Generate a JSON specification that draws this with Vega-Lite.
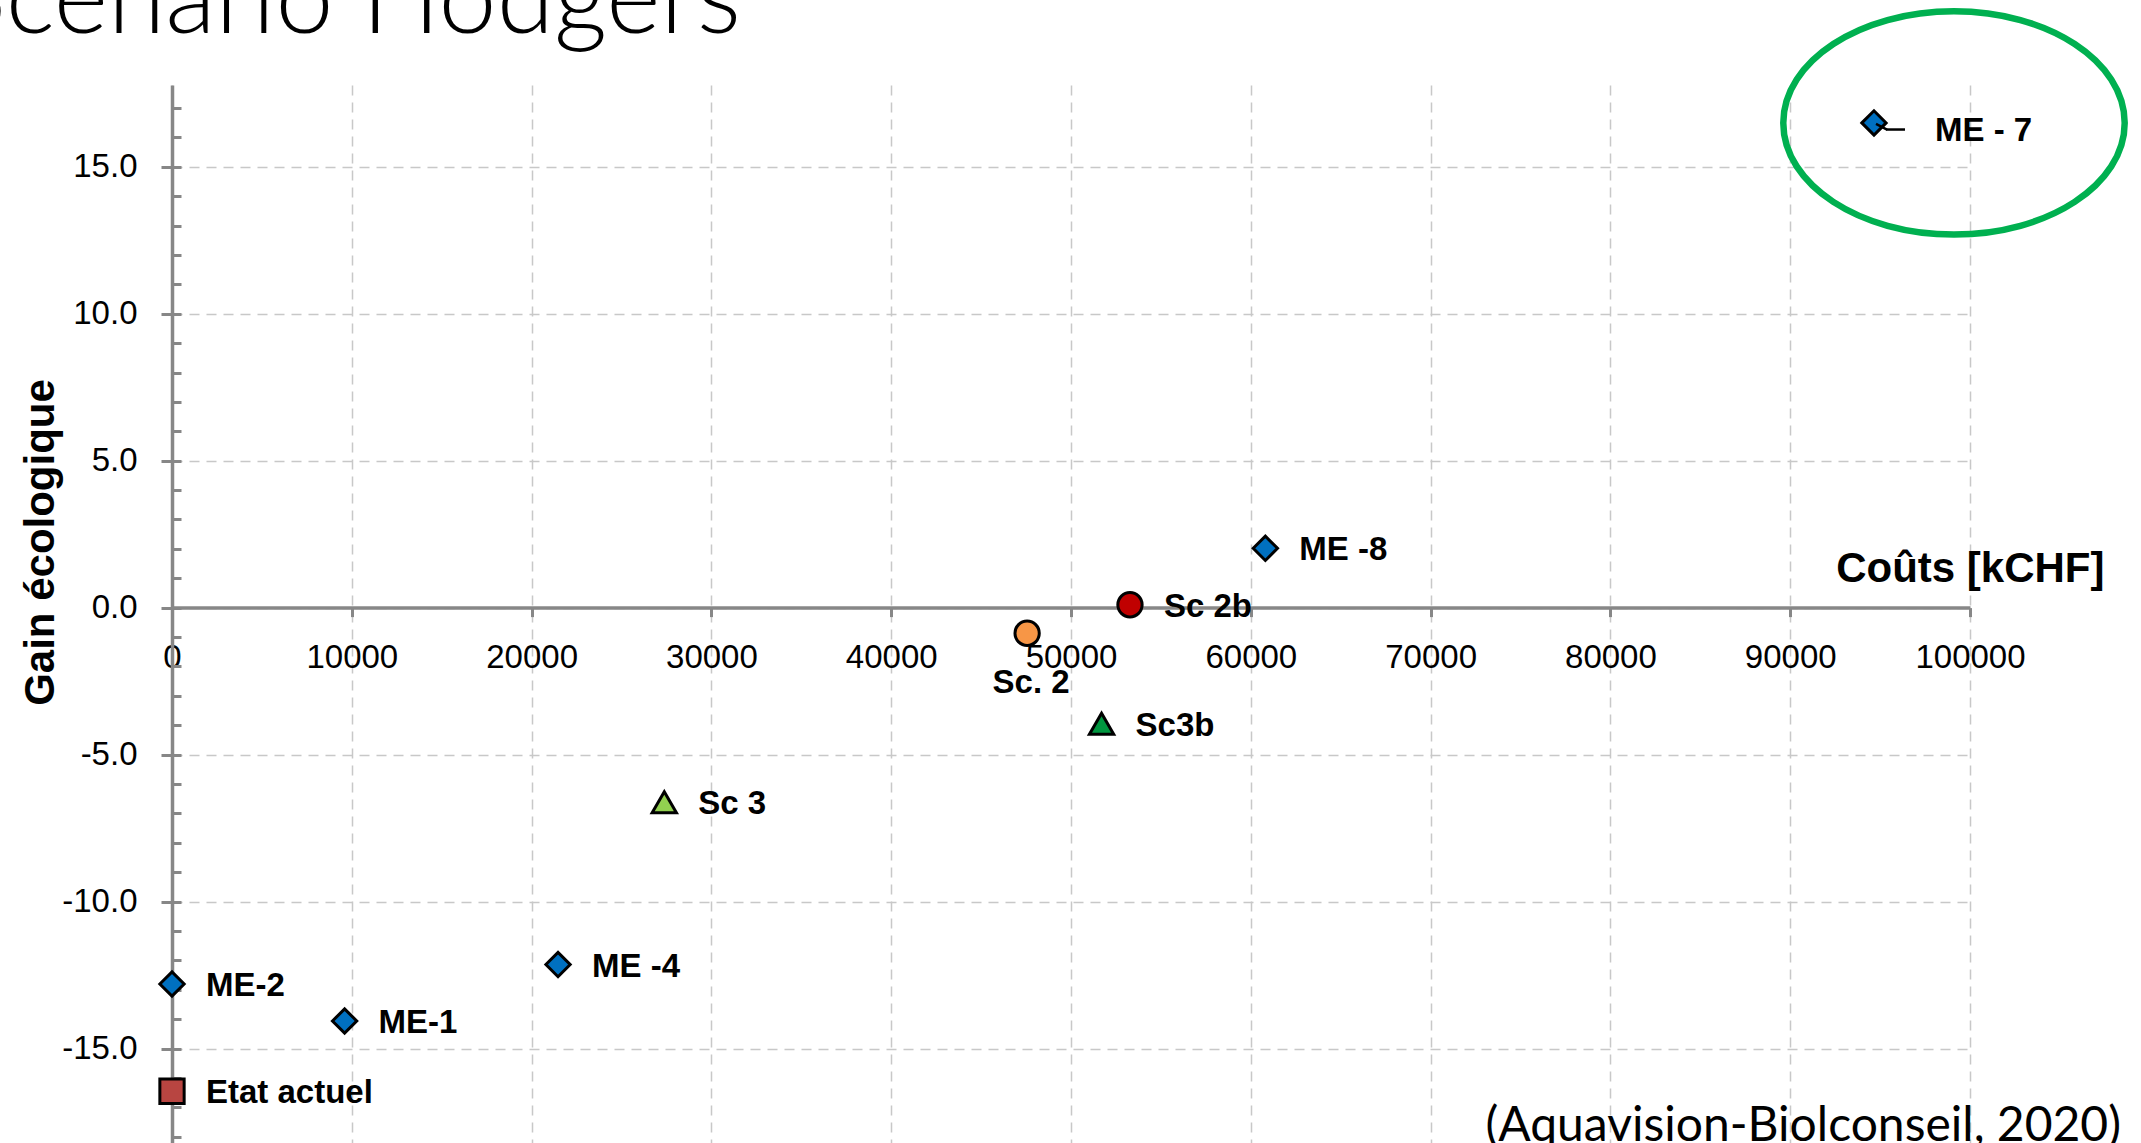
{
  "$schema": "https://vega.github.io/schema/vega-lite/v6.json",
  "width": 1798,
  "height": 1058,
  "autosize": {"type": "none"},
  "padding": {"left": 172, "top": 85, "right": 171, "bottom": 0},
  "background": "white",
  "title": {
    "text": "Scénario Hodgers",
    "anchor": "start",
    "frame": "group",
    "align": "right",
    "baseline": "alphabetic",
    "dx": 569,
    "offset": 0,
    "dy": 139,
    "font": "Lato",
    "fontWeight": 300,
    "fontSize": 104,
    "color": "#000000"
  },
  "config": {
    "view": {"stroke": null},
    "axis": {
      "labelFont": "Liberation Sans",
      "labelFontSize": 33,
      "labelColor": "#000000",
      "titleFont": "Liberation Sans",
      "titleFontWeight": "bold",
      "titleFontSize": 42,
      "titleColor": "#000000",
      "domainColor": "#878787",
      "domainWidth": 3.5,
      "tickColor": "#878787",
      "tickWidth": 3,
      "gridColor": "#C8C8C8",
      "gridDash": [10, 7],
      "gridWidth": 1.5
    }
  },
  "data": {
    "values": [
      {"label": "Etat actuel", "groupe": "Etat actuel", "cost": 0, "gain": -16.45},
      {"label": "ME-2", "groupe": "ME", "cost": 0, "gain": -12.8},
      {"label": "ME-1", "groupe": "ME", "cost": 9600, "gain": -14.06},
      {"label": "ME -4", "groupe": "ME", "cost": 21470, "gain": -12.14},
      {"label": "Sc 3", "groupe": "Sc 3", "cost": 27380, "gain": -6.62},
      {"label": "Sc. 2", "groupe": "Sc. 2", "cost": 47560, "gain": -0.87},
      {"label": "Sc3b", "groupe": "Sc3b", "cost": 51700, "gain": -3.95},
      {"label": "Sc 2b", "groupe": "Sc 2b", "cost": 53280, "gain": 0.1},
      {"label": "ME -8", "groupe": "ME", "cost": 60810, "gain": 2.02},
      {"label": "ME - 7", "groupe": "ME", "cost": 94660, "gain": 16.49}
    ]
  },
  "resolve": {"axis": {"y": "independent"}},
  "layer": [
    {
      "mark": {"type": "point", "filled": true, "opacity": 1, "stroke": "#000000", "strokeWidth": 3, "size": 590},
      "encoding": {
        "x": {
          "field": "cost",
          "type": "quantitative",
          "scale": {"domain": [0, 100000], "nice": false, "zero": false},
          "axis": {
            "values": [0, 10000, 20000, 30000, 40000, 50000, 60000, 70000, 80000, 90000, 100000],
            "format": "d",
            "offset": -535.4,
            "tickSize": 9,
            "labelPadding": 25,
            "labelFlush": false,
            "labelOverlap": false,
            "grid": true,
            "title": "Coûts [kCHF]",
            "titleX": 1932,
            "titleY": -26,
            "titleAlign": "right",
            "titleBaseline": "alphabetic",
            "titleAnchor": null
          }
        },
        "y": {
          "field": "gain",
          "type": "quantitative",
          "scale": {"domain": [-18.21, 17.78], "nice": false, "zero": false},
          "axis": {
            "orient": "left",
            "values": [-15, -10, -5, 0, 5, 10, 15],
            "labelExpr": "replace(format(datum.value, '.1f'), '\u2212', '-')",
            "tickSize": 11,
            "labelPadding": 24,
            "labelOverlap": false,
            "labelFlush": false,
            "grid": true,
            "title": "Gain écologique",
            "titleAngle": 270,
            "titleX": -119,
            "titleY": 457,
            "titleAlign": "center",
            "titleBaseline": "alphabetic",
            "titleAnchor": null
          }
        },
        "shape": {
          "field": "groupe",
          "type": "nominal",
          "scale": {
            "domain": ["Etat actuel", "ME", "Sc 3", "Sc. 2", "Sc3b", "Sc 2b"],
            "range": ["square", "diamond", "triangle-up", "circle", "triangle-up", "circle"]
          },
          "legend": null
        },
        "fill": {
          "field": "groupe",
          "type": "nominal",
          "scale": {
            "domain": ["Etat actuel", "ME", "Sc 3", "Sc. 2", "Sc3b", "Sc 2b"],
            "range": ["#B84541", "#0070C0", "#92D050", "#F79646", "#00963F", "#C00000"]
          },
          "legend": null
        }
      }
    },
    {
      "transform": [{"filter": "datum.label === 'ME - 7'"}],
      "mark": {"type": "rule", "stroke": "#000000", "strokeWidth": 2.5, "xOffset": 2, "x2Offset": 13, "yOffset": 1, "y2Offset": 6.6},
      "encoding": {
        "x": {"field": "cost", "type": "quantitative"},
        "x2": {"field": "cost"},
        "y": {"field": "gain", "type": "quantitative", "axis": null},
        "y2": {"field": "gain"}
      }
    },
    {
      "transform": [{"filter": "datum.label === 'ME - 7'"}],
      "mark": {"type": "rule", "stroke": "#000000", "strokeWidth": 2.5, "xOffset": 12, "x2Offset": 31, "yOffset": 6.6, "y2Offset": 6.6},
      "encoding": {
        "x": {"field": "cost", "type": "quantitative"},
        "x2": {"field": "cost"},
        "y": {"field": "gain", "type": "quantitative", "axis": null},
        "y2": {"field": "gain"}
      }
    },
    {
      "transform": [{"filter": "datum.label !== 'Sc. 2' && datum.label !== 'ME - 7'"}],
      "mark": {"type": "text", "align": "left", "baseline": "middle", "dx": 34, "dy": 2, "font": "Liberation Sans", "fontWeight": "bold", "fontSize": 33, "color": "#000000"},
      "encoding": {
        "x": {"field": "cost", "type": "quantitative"},
        "y": {
          "field": "gain",
          "type": "quantitative",
          "axis": {
            "orient": "left",
            "values": [-18, -17, -16, -15, -14, -13, -12, -11, -10, -9, -8, -7, -6, -5, -4, -3, -2, -1, 0, 1, 2, 3, 4, 5, 6, 7, 8, 9, 10, 11, 12, 13, 14, 15, 16, 17],
            "labels": false,
            "domain": false,
            "grid": false,
            "ticks": true,
            "tickSize": -9,
            "title": null
          }
        },
        "text": {"field": "label", "type": "nominal"}
      }
    },
    {
      "transform": [{"filter": "datum.label === 'Sc. 2'"}],
      "mark": {"type": "text", "align": "center", "baseline": "middle", "dx": 4, "dy": 50, "font": "Liberation Sans", "fontWeight": "bold", "fontSize": 33, "color": "#000000"},
      "encoding": {
        "x": {"field": "cost", "type": "quantitative"},
        "y": {"field": "gain", "type": "quantitative", "axis": null},
        "text": {"field": "label", "type": "nominal"}
      }
    },
    {
      "transform": [{"filter": "datum.label === 'ME - 7'"}],
      "mark": {"type": "text", "align": "left", "baseline": "middle", "dx": 61, "dy": 8, "font": "Liberation Sans", "fontWeight": "bold", "fontSize": 33, "color": "#000000"},
      "encoding": {
        "x": {"field": "cost", "type": "quantitative"},
        "y": {"field": "gain", "type": "quantitative", "axis": null},
        "text": {"field": "label", "type": "nominal"}
      }
    },
    {
      "transform": [{"filter": "datum.label === 'ME - 7'"}],
      "mark": {
        "type": "point",
        "filled": false,
        "fill": null,
        "opacity": 1,
        "stroke": "#00B050",
        "strokeWidth": 6.5,
        "size": 116554,
        "xOffset": 80,
        "yOffset": 0,
        "shape": "M -1 0 C -1 -0.3612 -0.5523 -0.654 0 -0.654 C 0.5523 -0.654 1 -0.3612 1 0 C 1 0.3612 0.5523 0.654 0 0.654 C -0.5523 0.654 -1 0.3612 -1 0 Z"
      },
      "encoding": {
        "x": {"field": "cost", "type": "quantitative"},
        "y": {"field": "gain", "type": "quantitative", "axis": null}
      }
    },
    {
      "data": {"values": [{"note": "(Aquavision-Biolconseil, 2020)"}]},
      "mark": {"type": "text", "align": "right", "baseline": "alphabetic", "dx": 151, "font": "Lato", "fontSize": 48, "color": "#000000"},
      "encoding": {
        "x": {"datum": 100000, "type": "quantitative"},
        "y": {"datum": -18.14, "type": "quantitative", "axis": null},
        "text": {"field": "note", "type": "nominal"}
      }
    }
  ]
}
